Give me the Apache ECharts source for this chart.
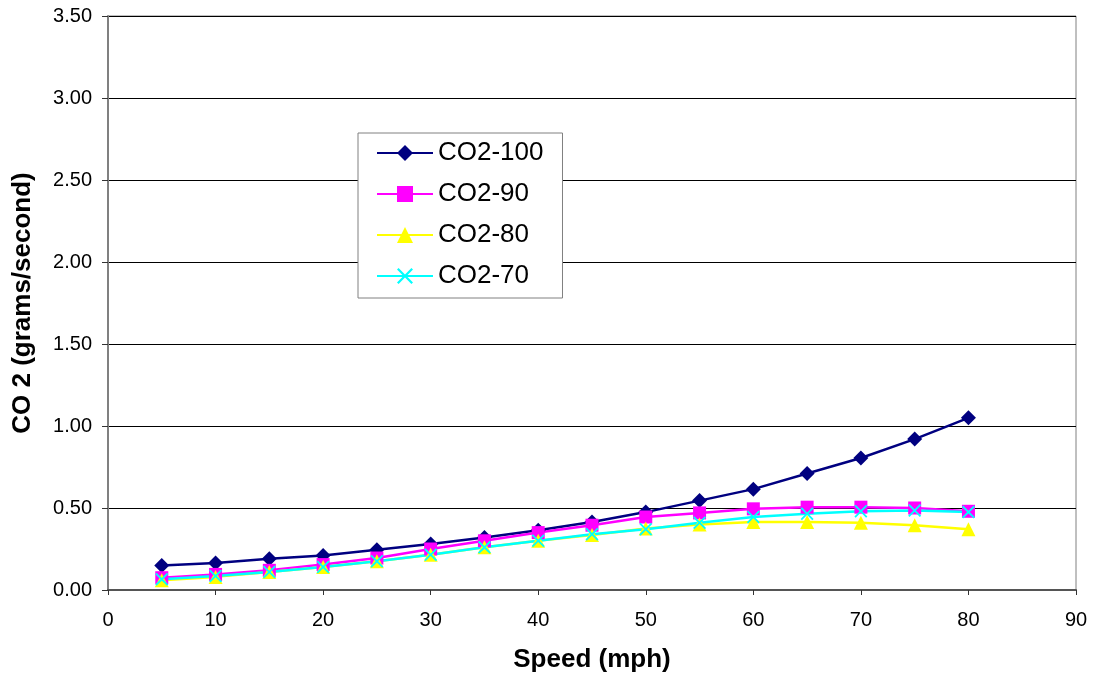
<!DOCTYPE html>
<html lang="en">
<head>
  <meta charset="UTF-8">
  <title>CO2 vs Speed</title>
  <script src="https://cdn.jsdelivr.net/npm/echarts@6/dist/echarts.min.js"></script>
  <style>
    html, body { margin: 0; padding: 0; background: #fff; }
  </style>
</head>
<body>
  <div id="chart" style="width: 1096px; height: 681px"></div>

  <script>
    const speeds = [5, 10, 15, 20, 25, 30, 35, 40, 45, 50, 55, 60, 65, 70, 75, 80]
    const co2_100 = [0.15, 0.165, 0.19, 0.21, 0.245, 0.28, 0.32, 0.365, 0.415, 0.475, 0.545, 0.615, 0.71, 0.805, 0.92, 1.05]
    const co2_90 = [0.075, 0.095, 0.12, 0.155, 0.195, 0.25, 0.3, 0.35, 0.395, 0.445, 0.47, 0.495, 0.505, 0.505, 0.5, 0.48]
    const co2_80 = [0.06, 0.08, 0.11, 0.14, 0.175, 0.215, 0.26, 0.3, 0.335, 0.375, 0.4, 0.415, 0.415, 0.41, 0.395, 0.37]
    const co2_70 = [0.065, 0.085, 0.11, 0.14, 0.175, 0.215, 0.26, 0.3, 0.34, 0.37, 0.41, 0.445, 0.465, 0.48, 0.485, 0.475]

    const dom = document.getElementById('chart')
    const myChart = echarts.init(dom)

    const font = '"Liberation Sans", Arial, sans-serif'
    // x 形标记
    const crossPath = 'path://M0,2 L2,0 L10,8 L18,0 L20,2 L12,10 L20,18 L18,20 L10,12 L2,20 L0,18 L8,10 Z'

    function pairs(arr) {
      return arr.map((v, i) => [speeds[i], v])
    }

    function makeSeries(name, arr, color, symbol, size) {
      return {
        name: name,
        type: 'line',
        data: pairs(arr),
        symbol: symbol,
        symbolSize: size,
        showAllSymbol: true,
        lineStyle: { color: color, width: 2.5 },
        itemStyle: { color: color },
        emphasis: { disabled: true }
      }
    }

    const option = {
      animation: false,
      backgroundColor: '#fff',
      textStyle: { fontFamily: font },
      grid: {
        left: 108,
        right: 20,
        top: 16,
        bottom: 91,
        outerBoundsMode: 'none',
        show: true,
        borderColor: '#808080',
        borderWidth: 1
      },
      legend: {
        orient: 'vertical',
        left: 358,
        top: 133,
        padding: [7, 19, 9, 18],
        itemWidth: 56,
        itemHeight: 20,
        itemGap: 15,
        backgroundColor: '#fff',
        borderColor: '#808080',
        borderWidth: 1,
        textStyle: { fontSize: 26, color: '#000', fontFamily: font },
        data: ['CO2-100', 'CO2-90', 'CO2-80', 'CO2-70']
      },
      xAxis: {
        type: 'value',
        min: 0,
        max: 90,
        interval: 10,
        name: 'Speed (mph)',
        nameLocation: 'middle',
        nameGap: 57,
        nameTextStyle: { fontSize: 26, fontWeight: 'bold', color: '#000' },
        axisLine: { lineStyle: { color: '#555', width: 2 } },
        axisTick: { length: 5, lineStyle: { color: '#333' } },
        axisLabel: { fontSize: 20, color: '#000', margin: 20 },
        splitLine: { show: false }
      },
      yAxis: {
        type: 'value',
        min: 0,
        max: 3.5,
        interval: 0.5,
        name: 'CO 2 (grams/second)',
        nameLocation: 'middle',
        nameGap: 72,
        nameTextStyle: { fontSize: 26, fontWeight: 'bold', color: '#000' },
        axisLine: { show: true, lineStyle: { color: '#808080', width: 2 } },
        axisTick: { show: true, length: 6, lineStyle: { color: '#333' } },
        axisLabel: { fontSize: 20, color: '#000', margin: 16, formatter: v => v.toFixed(2) },
        splitLine: { show: true, lineStyle: { color: '#000', width: 1 } }
      },
      series: [
        makeSeries('CO2-100', co2_100, '#000080', 'diamond', 15),
        makeSeries('CO2-90', co2_90, '#FF00FF', 'rect', 13),
        makeSeries('CO2-80', co2_80, '#FFFF00', 'triangle', 14),
        makeSeries('CO2-70', co2_70, '#00FFFF', crossPath, 13)
      ]
    }

    myChart.setOption(option)
  </script>
</body>
</html>
